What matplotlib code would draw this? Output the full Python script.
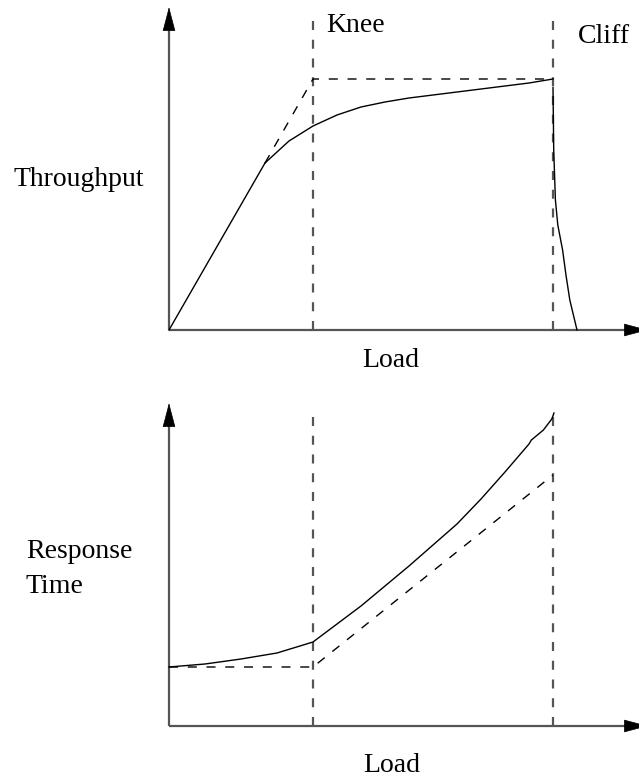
import matplotlib.pyplot as plt
import numpy as np

plt.rcParams['font.family'] = ['Liberation Serif', 'DejaVu Serif']
plt.rcParams['lines.scale_dashes'] = False

# Throughput vs load (load in arbitrary units)
carga_sube = [0, 4]
thr_sube = [0, 6.68]
carga_curva = [4, 5, 6, 7, 8, 9, 10, 11, 12, 13, 14, 15, 16]
thr_curva = [6.68, 7.56, 8.16, 8.6, 8.92, 9.12, 9.28, 9.4, 9.52, 9.64, 9.76, 9.88, 10.04]
carga_caida = [16.0, 16.03, 16.1, 16.2, 16.4, 16.54, 16.7, 17.0]
thr_caida = [9.7, 7.2, 5.2, 4.2, 3.2, 2.2, 1.2, 0]
carga_ideal = [4, 6, 16]
thr_ideal = [6.68, 10.04, 10.04]

# Response time vs load
carga_resp = [0, 1.5, 3, 4.5, 6, 7, 8, 9, 10, 11, 12, 13, 14, 15, 15.1, 15.6, 15.95, 16.04]
resp = [2.36, 2.48, 2.68, 2.92, 3.36, 4.08, 4.8, 5.6, 6.4, 7.24, 8.08, 9.08, 10.16,
        11.28, 11.44, 11.84, 12.28, 12.52]
carga_resp_ideal = [0, 6, 16]
resp_ideal = [2.36, 2.36, 10.04]

knee = 6
cliff = 16
eje_x_max = 19.96
eje_y_max = 12.92
linea_max = 12.64

gris = '#555555'
dash = (0, (6.5, 7))

fig = plt.figure(figsize=(6.39, 7.80), dpi=100)
ax1 = fig.add_axes([0, 390 / 780, 1, 390 / 780])
ax2 = fig.add_axes([0, 0, 1, 390 / 780])

ax1.set_xlim(-169 / 24, (639 - 169) / 24)
ax1.set_ylim(-60 / 25, 330 / 25)
ax2.set_xlim(-169 / 24, (639 - 169) / 24)
ax2.set_ylim(-54 / 25, 336 / 25)


def ejes(ax):
    ax.plot([0, eje_x_max - 0.9], [0, 0], color=gris, lw=1.6, solid_capstyle='butt')
    ax.plot([0, 0], [0, eje_y_max - 0.8], color=gris, lw=1.6, solid_capstyle='butt')
    flecha = dict(arrowstyle='-|>,head_length=1.6,head_width=0.42', color='k',
                  mutation_scale=10, shrinkA=0, shrinkB=0, lw=0.5)
    ax.annotate('', xy=(eje_x_max, 0), xytext=(eje_x_max - 1.0, 0),
                arrowprops=flecha, annotation_clip=False)
    ax.annotate('', xy=(0, eje_y_max), xytext=(0, eje_y_max - 0.9),
                arrowprops=flecha, annotation_clip=False)
    for xv in [knee, cliff]:
        ax.plot([xv, xv], [0, linea_max], color=gris, lw=1.6, linestyle=dash)
    ax.axis('off')


ejes(ax1)
ejes(ax2)

# Panel superior
ax1.plot(carga_sube, thr_sube, color='k', lw=1.0)
ax1.plot(carga_curva, thr_curva, color='k', lw=1.0)
ax1.plot(carga_caida, thr_caida, color='k', lw=1.0)
ax1.plot(carga_ideal, thr_ideal, color='k', lw=1.0, linestyle=dash)

fs = 20
ax1.text(6.54, 11.92, 'Knee', fontsize=fs, ha='left', va='baseline')
ax1.text(17.04, 11.48, 'Cliff', fontsize=fs, ha='left', va='baseline')
ax1.text(-6.5, 5.76, 'Throughput', fontsize=fs, ha='left', va='baseline')
ax1.text(9.25, -1.48, 'Load', fontsize=fs, ha='center', va='baseline')

# Panel inferior
ax2.plot(carga_resp, resp, color='k', lw=1.0)
ax2.plot(carga_resp_ideal, resp_ideal, color='k', lw=1.0, linestyle=dash)

ax2.text(-5.96, 6.72, 'Response', fontsize=fs, ha='left', va='baseline')
ax2.text(-5.96, 5.32, 'Time', fontsize=fs, ha='left', va='baseline')
ax2.text(9.29, -1.82, 'Load', fontsize=fs, ha='center', va='baseline')

plt.savefig('out.png', dpi=100)
plt.close()
